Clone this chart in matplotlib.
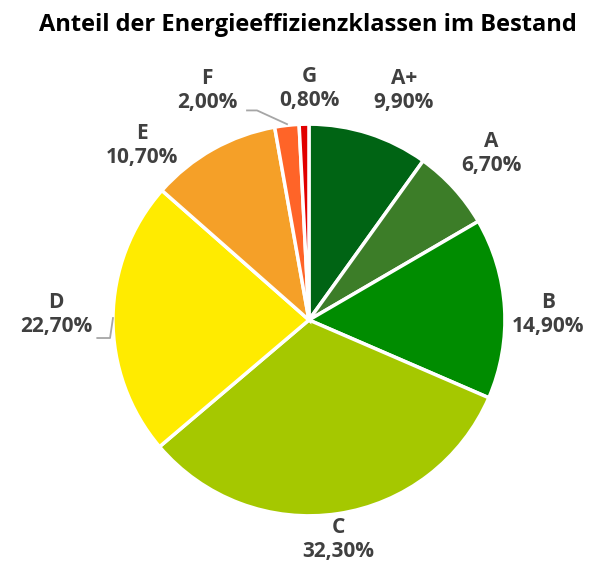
import numpy as np
import matplotlib
matplotlib.use("Agg")
import matplotlib.pyplot as plt

plt.rcParams['font.family'] = ['Open Sans', 'DejaVu Sans']

classes = ["A+", "A", "B", "C", "D", "E", "F", "G"]
shares = [9.9, 6.7, 14.9, 32.3, 22.7, 10.7, 2.0, 0.8]
colors = ["#006414", "#3c7d28", "#008c00", "#a5c800",
          "#ffeb00", "#f5a028", "#ff6428", "#e10000"]
label_pos = [(0.485, 1.17), (0.93, 0.85), (1.22, 0.03), (0.15, -1.12),
             (-1.29, 0.03), (-0.85, 0.89), (-0.52, 1.17), (0.0, 1.18)]

fig = plt.figure(figsize=(5.93, 5.71), dpi=100)
ax = fig.add_axes([0.521 - 0.3305 * 1.45, 0.4396 - 0.343 * 1.45,
                   0.3305 * 2.9, 0.343 * 2.9])

ax.pie(shares, colors=colors, startangle=90, counterclock=False,
       wedgeprops=dict(edgecolor="white", linewidth=2.5))
ax.set_xlim(-1.45, 1.45)
ax.set_ylim(-1.45, 1.45)
ax.set_aspect("auto")
ax.axis("off")

for name, val, (x, y) in zip(classes, shares, label_pos):
    txt = f"{name}\n{val:.2f}%".replace(".", ",")
    ax.text(x, y, txt, ha="center", va="center", fontsize=15,
            fontweight="bold", color="#404040", linespacing=1.2)

# leader lines for F and D
ax.plot([-0.316, -0.265, -0.112], [1.07, 1.07, 1.0], color="#a6a6a6", lw=1.3)
ax.plot([-1.08, -1.015, -1.0], [-0.092, -0.092, 0.01], color="#a6a6a6", lw=1.3)

fig.text(0.52, 0.957, "Anteil der Energieeffizienzklassen im Bestand",
         ha="center", va="center", fontsize=17, fontweight="bold", color="black")

fig.savefig("out.png", dpi=100)
